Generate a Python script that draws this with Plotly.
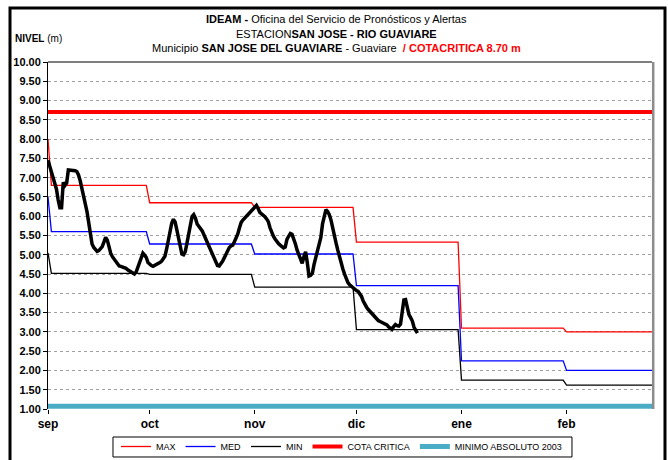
import pandas as pd
import plotly.graph_objects as go

# Niveles observados (m), dos lecturas diarias desde el 1 de septiembre
obs_start = "2010-09-01"
obs_levels = [
    7.45, 7.30, 7.15, 6.97, 6.85, 6.70, 6.42, 6.22, 6.22, 6.88,
    6.80, 6.86, 7.20, 7.20, 7.20, 7.20, 7.18, 7.16, 7.07, 6.92,
    6.74, 6.55, 6.38, 6.12, 5.84, 5.55, 5.28, 5.19, 5.12, 5.09,
    5.11, 5.15, 5.21, 5.33, 5.45, 5.38, 5.20, 5.04, 4.95, 4.88,
    4.81, 4.76, 4.71, 4.70, 4.69, 4.68, 4.65, 4.61, 4.58, 4.55,
    4.52, 4.50, 4.55, 4.66, 4.80, 4.94, 5.04, 4.99, 4.93, 4.80,
    4.75, 4.72, 4.70, 4.72, 4.75, 4.78, 4.80, 4.83, 4.88, 4.96,
    5.15, 5.39, 5.60, 5.82, 5.92, 5.85, 5.65, 5.41, 5.18, 5.02,
    5.00, 5.08, 5.30, 5.52, 5.78, 5.99, 6.04, 5.95, 5.80, 5.74,
    5.68, 5.62, 5.52, 5.42, 5.30, 5.18, 5.09, 5.00, 4.89, 4.79,
    4.72, 4.71, 4.76, 4.83, 4.92, 5.03, 5.10, 5.19, 5.23, 5.25,
    5.34, 5.44, 5.54, 5.70, 5.84, 5.90, 5.95, 6.00, 6.05, 6.10,
    6.14, 6.18, 6.22, 6.28, 6.20, 6.10, 6.06, 6.03, 5.99, 5.93,
    5.86, 5.70, 5.56, 5.48, 5.41, 5.34, 5.29, 5.25, 5.21, 5.18,
    5.20, 5.40, 5.48, 5.55, 5.53, 5.42, 5.28, 5.12, 4.99, 4.84,
    4.78, 4.95, 5.08, 4.80, 4.45, 4.47, 4.52, 4.75, 4.92, 5.02,
    5.20, 5.45, 5.80, 6.05, 6.17, 6.12, 6.04, 5.90, 5.73, 5.52,
    5.30, 5.12, 4.94, 4.78, 4.63, 4.50, 4.37, 4.28, 4.22, 4.18,
    4.13, 4.09, 4.07, 4.05, 3.99, 3.92, 3.80, 3.70, 3.64, 3.58,
    3.53, 3.47, 3.41, 3.36, 3.32, 3.29, 3.27, 3.25, 3.24, 3.22,
    3.18, 3.13, 3.10, 3.07, 3.14, 3.19, 3.16, 3.15, 3.20, 3.45,
    3.83, 3.84, 3.65, 3.45, 3.37, 3.28, 3.12, 3.03, 2.97,
]

# Estadisticos mensuales historicos (m)
month_first = ["2010-09-01", "2010-10-01", "2010-11-01", "2010-12-01", "2011-01-01", "2011-02-01"]
month_last = ["2010-09-30", "2010-10-31", "2010-11-30", "2010-12-31", "2011-01-31", "2011-02-28"]
max_month = [6.80, 6.35, 6.23, 5.33, 3.10, 3.00]
med_month = [5.60, 5.28, 5.02, 4.20, 2.25, 2.00]
min_month = [4.52, 4.49, 4.16, 3.06, 1.75, 1.62]
# valor del primer dia de la serie
max_day1, med_day1, min_day1 = 8.00, 6.50, 5.05

cota_critica = 8.70
minimo_absoluto = 1.07

month_ticks = month_first
month_labels = ["sep", "oct", "nov", "dic", "ene", "feb"]

x_start = "2010-09-01"
x_end = "2011-02-26 05:00"


def monthly_steps(day1, values):
    xs = [month_first[0]]
    ys = [day1]
    for i, v in enumerate(values):
        first = "2010-09-02" if i == 0 else month_first[i]
        xs += [first, month_last[i]]
        ys += [v, v]
    return xs, ys


obs_x = pd.date_range(obs_start, periods=len(obs_levels), freq="12h")

FONT = "Liberation Sans Narrow, Arial Narrow, Liberation Sans, Arial, sans-serif"

fig = go.Figure()

for name, d1, vals, color in [
    ("MAX", max_day1, max_month, "#FF0000"),
    ("MED", med_day1, med_month, "#0000FF"),
    ("MIN", min_day1, min_month, "#000000"),
]:
    xs, ys = monthly_steps(d1, vals)
    fig.add_trace(go.Scatter(x=xs, y=ys, mode="lines", name=name,
                             line=dict(color=color, width=1.3)))

fig.add_trace(go.Scatter(x=[x_start, x_end], y=[cota_critica, cota_critica],
                         mode="lines", name="COTA CRITICA",
                         line=dict(color="#FF0000", width=4)))
fig.add_trace(go.Scatter(x=[x_start, x_end], y=[minimo_absoluto, minimo_absoluto],
                         mode="lines", name="MINIMO ABSOLUTO 2003",
                         line=dict(color="#4BACC6", width=5)))
fig.add_trace(go.Scatter(x=obs_x, y=obs_levels, mode="lines", name="NIVEL",
                         showlegend=False,
                         line=dict(color="#000000", width=3.5)))

fig.update_layout(
    width=668, height=460,
    margin=dict(l=48, r=16, t=62, b=51, autoexpand=False),
    paper_bgcolor="white", plot_bgcolor="white",
    font=dict(family=FONT, color="#000000", size=11),
    showlegend=True,
    legend=dict(
        orientation="h", x=0.1126, xanchor="left", y=-0.0663, yanchor="top",
        borderwidth=0, bgcolor="rgba(0,0,0,0)",
        font=dict(family=FONT, size=9), itemwidth=30,
        tracegroupgap=0,
    ),
    xaxis=dict(
        type="date", range=[x_start, x_end],
        tickvals=month_ticks, ticktext=month_labels,
        tickfont=dict(family="Liberation Sans, Arial", size=12, weight="bold"),
        ticks="outside", ticklen=4, tickcolor="#000000",
        showgrid=False, zeroline=False, showline=False,
    ),
    yaxis=dict(
        range=[1, 10], dtick=0.5, tick0=1, tickformat=".2f",
        tickfont=dict(family="Liberation Sans, Arial", size=11, weight="bold"),
        ticks="outside", ticklen=4, tickcolor="#000000",
        showgrid=True, gridcolor="#a0a0a0", griddash="dot", gridwidth=1,
        zeroline=False, showline=True, linecolor="#000000", linewidth=1,
    ),
)

# marco del area de graficado, recuadro de la leyenda y marco exterior
fig.add_shape(type="line", xref="paper", yref="paper", x0=0, x1=1, y0=1, y1=1,
              line=dict(color="#000000", width=1))
fig.add_shape(type="line", xref="paper", yref="paper", x0=1.002, x1=1.002, y0=0, y1=1,
              line=dict(color="#8c8c8c", width=2.5))
fig.add_shape(type="rect", xref="paper", yref="paper",
              x0=0.1076, x1=0.8675, y0=-0.1383, y1=-0.0807,
              line=dict(color="#000000", width=1), fillcolor="rgba(0,0,0,0)")
fig.add_shape(type="rect", xref="paper", yref="paper",
              x0=-0.0629, x1=1.0215, y0=-0.2, y1=1.1556,
              line=dict(color="#000000", width=3), fillcolor="rgba(0,0,0,0)")

title_lines = [
    ("<b>IDEAM -</b> Oficina del Servicio de Pronósticos y Alertas", 19),
    ("ESTACION<b>SAN JOSE - RIO GUAVIARE</b>", 34),
    ("Municipio <b>SAN JOSE DEL GUAVIARE</b> - Guaviare  "
     "<span style='color:#FF0000'><b>/ COTACRITICA 8.70 m</b></span>", 48),
]
for text, py in title_lines:
    fig.add_annotation(text=text, xref="paper", yref="paper",
                       x=(336 - 48) / 604, y=(409 - py) / 347,
                       xanchor="center", yanchor="middle", showarrow=False,
                       font=dict(family=FONT, size=11, color="#000000"))

fig.add_annotation(text="<b>NIVEL</b> (m)", xref="paper", yref="paper",
                   x=(13 - 48) / 604, y=(409 - 39) / 347,
                   xanchor="left", yanchor="middle", showarrow=False,
                   font=dict(family=FONT, size=10, color="#000000"))

fig.write_html("out.html")
